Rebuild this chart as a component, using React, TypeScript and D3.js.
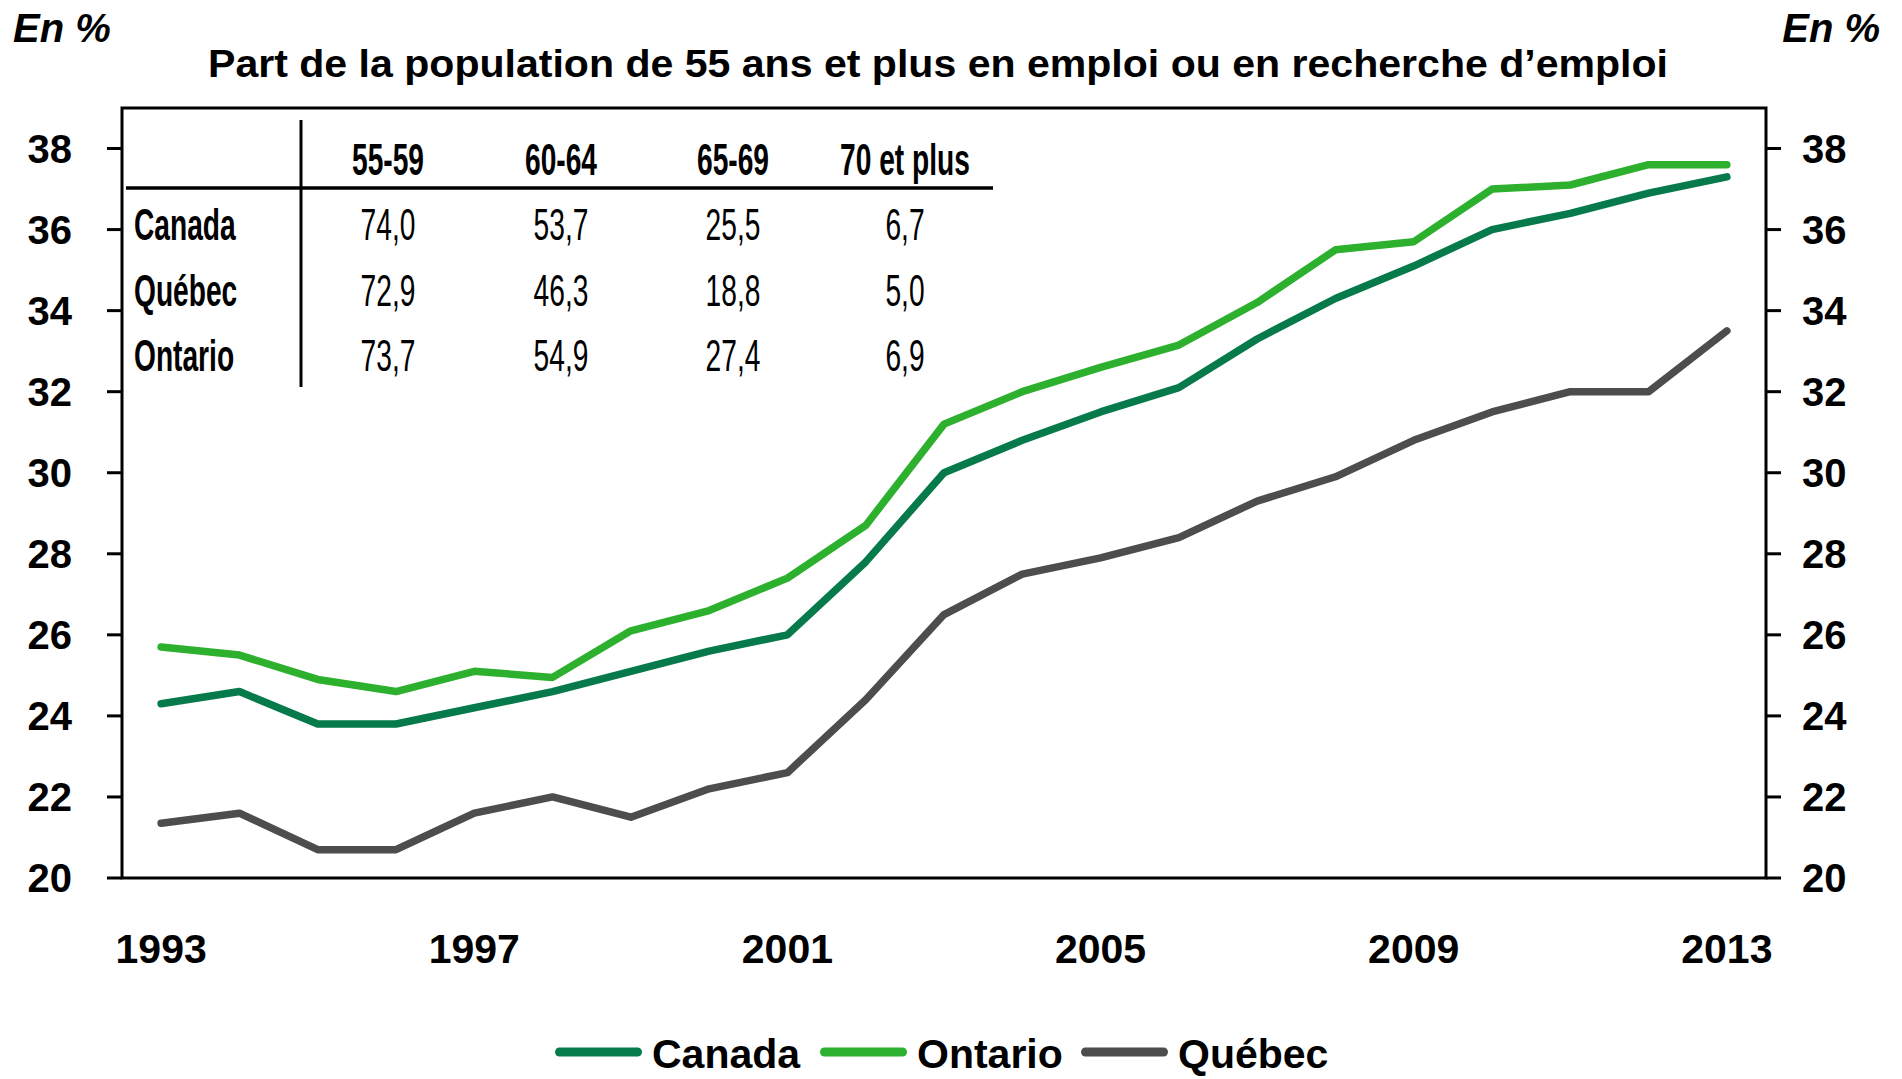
import React from "react";
import * as d3 from "d3";

const years = [1993, 1994, 1995, 1996, 1997, 1998, 1999, 2000, 2001, 2002, 2003, 2004, 2005, 2006, 2007, 2008, 2009, 2010, 2011, 2012, 2013];
const yearLabels = [1993, 1997, 2001, 2005, 2009, 2013];
const yTicks = [20, 22, 24, 26, 28, 30, 32, 34, 36, 38];

const canada = [24.3, 24.6, 23.8, 23.8, 24.2, 24.6, 25.1, 25.6, 26.0, 27.8, 30.0, 30.8, 31.5, 32.1, 33.3, 34.3, 35.1, 36.0, 36.4, 36.9, 37.3];
const ontario = [25.7, 25.5, 24.9, 24.6, 25.1, 24.95, 26.1, 26.6, 27.4, 28.7, 31.2, 32.0, 32.6, 33.15, 34.2, 35.5, 35.7, 37.0, 37.1, 37.6, 37.6];
const quebec = [21.35, 21.6, 20.7, 20.7, 21.6, 22.0, 21.5, 22.2, 22.6, 24.4, 26.5, 27.5, 27.9, 28.4, 29.3, 29.9, 30.8, 31.5, 32.0, 32.0, 33.5];

const seriesNames = ["Canada", "Ontario", "Québec"];
const seriesColors = ["#077A4B", "#2DB02D", "#4D4D4D"];

const tableHeaders = ["55-59", "60-64", "65-69", "70 et plus"];
const tableRows = ["Canada", "Québec", "Ontario"];
const tableCanada = ["74,0", "53,7", "25,5", "6,7"];
const tableQuebec = ["72,9", "46,3", "18,8", "5,0"];
const tableOntario = ["73,7", "54,9", "27,4", "6,9"];

const title = "Part de la population de 55 ans et plus en emploi ou en recherche d\u2019emploi";
const unitLabel = "En %";

const FONT = "'Liberation Sans', Arial, Helvetica, sans-serif";

export default function App() {
  const W = 1902;
  const H = 1079;
  const left = 122, right = 1766, top = 108, bottom = 878;

  const x = d3.scalePoint<number>().domain(years).range([left, right]).padding(0.5);
  const y = d3.scaleLinear().domain([20, 39]).range([bottom, top]);

  const allSeries = [canada, ontario, quebec];
  const line = d3
    .line<number>()
    .x((_, i) => x(years[i]) as number)
    .y((d) => y(d));

  const tableValues = [tableCanada, tableQuebec, tableOntario];
  const colCenters = [388, 561, 733, 905];
  const headerBase = 175;
  const rowBase = [240, 306, 371];
  const sx = 0.64;

  const legendStarts = [555, 820, 1081];
  const legendLineY = 1052;
  const legendTextY = 1068;

  return (
    <svg
      width={W}
      height={H}
      viewBox={`0 0 ${W} ${H}`}
      style={{ position: "absolute", left: 0, top: 0, background: "#fff" }}
      fontFamily={FONT}
    >
      <rect x={0} y={0} width={W} height={H} fill="#fff" />

      {/* unit labels */}
      <text x={13} y={42} fontSize={40} fontWeight="bold" fontStyle="italic" fill="#000">
        {unitLabel}
      </text>
      <text x={1880} y={42} fontSize={40} fontWeight="bold" fontStyle="italic" fill="#000" textAnchor="end">
        {unitLabel}
      </text>

      {/* title */}
      <text x={938} y={77} fontSize={39} fontWeight="bold" fill="#000" textAnchor="middle" textLength={1460} lengthAdjust="spacingAndGlyphs">
        {title}
      </text>

      {/* lines */}
      {[1, 0, 2].map((si) => (
        <path
          key={seriesNames[si]}
          d={line(allSeries[si]) || ""}
          fill="none"
          stroke={seriesColors[si]}
          strokeWidth={7.5}
          strokeLinecap="round"
          strokeLinejoin="round"
        />
      ))}

      {/* frame */}
      <rect x={left} y={top} width={right - left} height={bottom - top} fill="none" stroke="#000" strokeWidth={3} />

      {/* y ticks and labels */}
      {yTicks.map((t) => (
        <g key={t}>
          <line x1={left - 15} x2={left} y1={y(t)} y2={y(t)} stroke="#000" strokeWidth={3} />
          <line x1={right} x2={right + 15} y1={y(t)} y2={y(t)} stroke="#000" strokeWidth={3} />
          <text x={72} y={y(t) + 14} fontSize={40} fontWeight="bold" textAnchor="end" fill="#000">
            {t}
          </text>
          <text x={1802} y={y(t) + 14} fontSize={40} fontWeight="bold" textAnchor="start" fill="#000">
            {t}
          </text>
        </g>
      ))}

      {/* x labels */}
      {yearLabels.map((yr) => (
        <text key={yr} x={x(yr)} y={963} fontSize={41} fontWeight="bold" textAnchor="middle" fill="#000">
          {yr}
        </text>
      ))}

      {/* table */}
      <line x1={301} x2={301} y1={120} y2={387} stroke="#000" strokeWidth={3} />
      <line x1={126} x2={993} y1={188} y2={188} stroke="#000" strokeWidth={3.5} />
      {tableHeaders.map((h, i) => (
        <text
          key={h}
          transform={`translate(${colCenters[i]},${headerBase}) scale(${sx},1)`}
          fontSize={44}
          fontWeight="bold"
          textAnchor="middle"
          fill="#000"
        >
          {h}
        </text>
      ))}
      {tableRows.map((r, ri) => (
        <g key={r}>
          <text transform={`translate(134,${rowBase[ri]}) scale(${sx},1)`} fontSize={44} fontWeight="bold" fill="#000">
            {r}
          </text>
          {tableValues[ri].map((v, ci) => (
            <text
              key={ci}
              transform={`translate(${colCenters[ci]},${rowBase[ri]}) scale(${sx},1)`}
              fontSize={44}
              textAnchor="middle"
              fill="#000"
            >
              {v}
            </text>
          ))}
        </g>
      ))}

      {/* legend */}
      {seriesNames.map((n, i) => (
        <g key={n}>
          <line
            x1={legendStarts[i] + 4.5}
            x2={legendStarts[i] + 82.5}
            y1={legendLineY}
            y2={legendLineY}
            stroke={seriesColors[i]}
            strokeWidth={9}
            strokeLinecap="round"
          />
          <text x={legendStarts[i] + 97} y={legendTextY} fontSize={41} fontWeight="bold" fill="#000">
            {n}
          </text>
        </g>
      ))}
    </svg>
  );
}
